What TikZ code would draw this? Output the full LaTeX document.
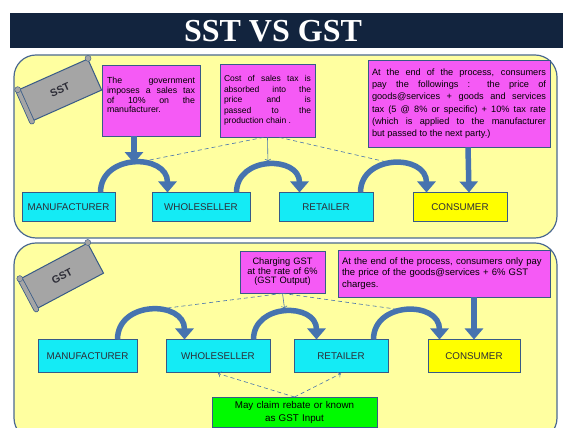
\documentclass[tikz,border=0pt]{standalone}
\usepackage{fontspec}
\setmainfont{Liberation Sans}
\newfontfamily\headfont{Liberation Serif}
\usetikzlibrary{arrows.meta}
\hyphenpenalty=10000
\exhyphenpenalty=10000
\tolerance=9999
\definecolor{titlenavy}{RGB}{18,36,62}
\definecolor{paneltint}{RGB}{255,255,160}
\definecolor{paneledge}{RGB}{75,105,145}
\definecolor{notepink}{RGB}{245,90,245}
\definecolor{stagecyan}{RGB}{20,235,245}
\definecolor{stageedge}{RGB}{55,90,135}
\definecolor{flowblue}{RGB}{70,115,175}
\definecolor{buyeryellow}{RGB}{255,255,0}
\definecolor{rebategreen}{RGB}{0,250,0}
\definecolor{scrollgray}{RGB}{165,165,165}
\definecolor{labelgray}{RGB}{45,45,55}

\begin{document}
\begin{tikzpicture}[x=1pt,y=1pt,
  panel/.style={draw=paneledge,line width=1.2pt,fill=paneltint,rounded corners=22pt},
  note/.style={draw=stageedge,line width=0.8pt,fill=notepink,inner sep=4pt,align=justify,
    font=\fontsize{8.5}{10.5}\selectfont},
  stage/.style={draw=stageedge,line width=1pt,fill=stagecyan,text=labelgray,
    font=\fontsize{9.8}{11}\selectfont},
  scroll/.style={draw=stageedge,line width=1pt,fill=scrollgray,minimum width=76pt,
    minimum height=34pt,font=\fontsize{10.5}{12}\selectfont\bfseries,text=labelgray},
  scrollroll/.style={double=scrollgray,double distance=4pt,draw=stageedge,line width=0.8pt,line cap=round},
  bigarrow/.style={draw=flowblue,line width=5.5pt,-{Triangle[width=18pt,length=11pt]}},
  thinarrow/.style={draw=flowblue,line width=0.6pt,->,shorten >=3pt},
  dashline/.style={draw=flowblue,line width=0.6pt,dash pattern=on 4pt off 3pt}]
\useasboundingbox (0,0) rectangle (563,428);
\fill[titlenavy] (10,380) rectangle (563,415);
\node[text=white,font=\headfont\bfseries\fontsize{32}{34}\selectfont] (title) at (273,397) {SST VS GST};

\draw[panel] (14,190) rectangle (557,373);
\draw[panel] (14,-12) rectangle (557,185);

\node[scroll,rotate=24] (sst) at (60,338) {SST};
\draw[scrollroll] (sst.north west) -- (sst.south west);
\filldraw[fill=scrollgray,draw=stageedge] (sst.north east) circle (3);
\filldraw[fill=scrollgray,draw=stageedge] (sst.north west) circle (3);
\node[scroll,rotate=28] (gst) at (62,152) {GST};
\draw[scrollroll] (gst.north west) -- (gst.south west);
\filldraw[fill=scrollgray,draw=stageedge] (gst.north east) circle (3);
\filldraw[fill=scrollgray,draw=stageedge] (gst.north west) circle (3);

\node[note,minimum width=98pt,minimum height=71pt,font=\fontsize{8.8}{9.7}\selectfont] (gov) at (151,327.5)
  {\parbox[c][62pt][t]{88pt}{\vspace*{8pt}The government\linebreak imposes a sales tax\linebreak of 10\% on the\linebreak manufacturer.}};
\node[note,text width=87pt,minimum height=73pt] (cost) at (267.5,327.5)
  {Cost of sales tax is\linebreak absorbed into the\linebreak price and is\linebreak passed to the\linebreak production chain~.};
\node[note,text width=174pt,minimum height=87pt,font=\fontsize{9.2}{12.3}\selectfont] (endsst) at (459,324.5)
  {At the end of the process, consumers\linebreak pay the followings : the price of\linebreak goods@services + goods and services\linebreak tax (5 @ 8\% or specific) + 10\% tax rate\linebreak (which is applied to the manufacturer\linebreak but passed to the next party.)};

\node[stage,minimum width=93pt,minimum height=29pt] (man) at (68.5,220.5) {MANUFACTURER};
\node[stage,minimum width=98pt,minimum height=29pt] (whl) at (201,220.5) {WHOLESELLER};
\node[stage,minimum width=94pt,minimum height=29pt] (ret) at (326,220.5) {RETAILER};
\node[stage,fill=buyeryellow,minimum width=94pt,minimum height=29pt] (con) at (460,220.5) {CONSUMER};

\draw[bigarrow] ([xshift=-15pt]man.north east) to[out=90,in=90,looseness=1.5] coordinate[pos=.5] (pk1) ([xshift=16pt]whl.north west);
\draw[bigarrow] ([xshift=-14pt]whl.north east) to[out=90,in=90,looseness=1.5] coordinate[pos=.5] (pk2) ([xshift=21pt]ret.north west);
\draw[bigarrow] ([xshift=-13pt]ret.north east) to[out=90,in=90,looseness=1.5] coordinate[pos=.5] (pk3) ([xshift=14pt]con.north west);
\draw[bigarrow] (gov.south -| pk1) -- (pk1);
\draw[bigarrow] ([xshift=9pt]endsst.south) -- ([xshift=9pt]con.north);
\draw[thinarrow] (cost.south) -- (pk2);
\draw[dashline] ([xshift=-4pt]cost.south) -- (pk1);
\draw[dashline] ([xshift=12pt]cost.south) -- (pk3);

\node[note,align=center,text width=77pt,minimum height=42pt,font=\fontsize{9.3}{9.5}\selectfont] (chg) at (282.5,156)
  {Charging GST\\at the rate of 6\%\\(GST Output)};
\node[note,align=left,text width=204pt,minimum height=47pt,font=\fontsize{9.5}{11.5}\selectfont] (endgst) at (444,154.5)
  {At the end of the process, consumers only pay\\the price of the goods@services + 6\% GST\\charges.};

\node[stage,minimum width=99pt,minimum height=33pt] (man2) at (87.5,71.5) {MANUFACTURER};
\node[stage,minimum width=104pt,minimum height=33pt] (whl2) at (218,71.5) {WHOLESELLER};
\node[stage,minimum width=94pt,minimum height=33pt] (ret2) at (341,71.5) {RETAILER};
\node[stage,fill=buyeryellow,minimum width=92pt,minimum height=33pt] (con2) at (474,71.5) {CONSUMER};

\draw[bigarrow] ([xshift=-20pt]man2.north east) to[out=90,in=90,looseness=1.5] coordinate[pos=.5] (pkb1) ([xshift=19pt]whl2.north west);
\draw[bigarrow] ([xshift=-17pt]whl2.north east) to[out=90,in=90,looseness=1.5] coordinate[pos=.5] (pkb2) ([xshift=23pt]ret2.north west);
\draw[bigarrow] ([xshift=-15pt]ret2.north east) to[out=90,in=90,looseness=1.5] coordinate[pos=.5] (pkb3) ([xshift=12pt]con2.north west);
\draw[bigarrow] (endgst.south -| con2.north) -- (con2.north);
\draw[thinarrow] (chg.south) -- (pkb2);
\draw[dashline] (chg.south) -- (pkb1);
\draw[dashline] (chg.south) -- (pkb3);

\node[note,fill=rebategreen,align=center,text width=157pt,anchor=north,font=\fontsize{9.8}{13}\selectfont] (rebate) at (294.5,31)
  {May claim rebate or known\\as GST Input};
\draw[dashline,->] (rebate.north) -- (whl2.south);
\draw[dashline,->] (rebate.north) -- (ret2.south);
\end{tikzpicture}
\end{document}
